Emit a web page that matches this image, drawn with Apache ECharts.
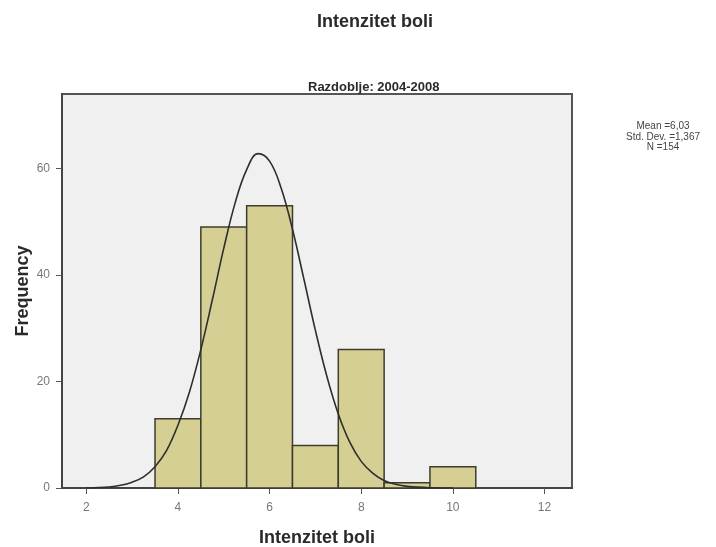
<!DOCTYPE html>
<html>
<head>
<meta charset="utf-8">
<script src="https://cdn.jsdelivr.net/npm/echarts@6/dist/echarts.min.js"></script>
<style>html,body{margin:0;padding:0;background:#fff}#c{width:716px;height:547px}</style>
</head>
<body>
<div id="c"></div>
<script>
var binCenters = [4, 5, 6, 7, 8, 9, 10];
var binCounts = [13, 49, 53, 8, 26, 1, 4];
var xTicks = [2, 4, 6, 8, 10, 12];
var yTicks = [0, 20, 40, 60];
var curveX = [2.0, 2.5, 2.75, 3.0, 3.25, 3.5, 3.75, 4.0, 4.25, 4.5, 4.75, 5.0, 5.25, 5.5, 5.75, 6.0, 6.25, 6.5, 6.75, 7.0, 7.25, 7.5, 7.75, 8.0, 8.25, 8.5, 8.75, 9.0, 9.5, 10.0];
var curveY = [0.0, 0.2, 0.5, 1.1, 2.1, 4.0, 7.0, 11.8, 18.0, 26.0, 35.3, 45.0, 53.6, 59.8, 62.8, 61.4, 56.4, 48.6, 39.2, 29.6, 21.0, 13.9, 8.6, 5.0, 2.8, 1.4, 0.7, 0.3, 0.05, 0.0];
var statsLines = ['Mean =6,03', 'Std. Dev. =1,367', 'N =154'];

var histData = binCenters.map(function (c, i) { return [c, binCounts[i]]; });
var curveData = curveX.map(function (x, i) { return [x, curveY[i]]; });

var chart = echarts.init(document.getElementById('c'), null, {renderer: 'canvas'});
var font = 'Liberation Sans, Arial, sans-serif';
chart.setOption({
  animation: false,
  backgroundColor: '#ffffff',
  title: [
    {text: 'Intenzitet boli', left: 312, top: 8,
     textStyle: {fontFamily: font, fontSize: 18, fontWeight: 'bold', color: '#2a2a2a'}},
    {text: 'Razdoblje: 2004-2008', left: 303, top: 76,
     textStyle: {fontFamily: font, fontSize: 13, fontWeight: 'bold', color: '#2a2a2a'}},
    {text: statsLines.join('\n'), left: 658, top: 116, textAlign: 'center',
     textStyle: {fontFamily: font, fontSize: 10, fontWeight: 'normal', color: '#444', lineHeight: 10.5, align: 'center'}}
  ],
  grid: {left: 62, top: 94, right: 144, bottom: 59, show: true, outerBoundsMode: 'none',
    backgroundColor: '#f0f0f0', borderColor: '#555', borderWidth: 2, containLabel: false},
  xAxis: {
    type: 'value', min: 1.47, max: 12.6,
    name: 'Intenzitet boli', nameLocation: 'middle', nameGap: 41, nameMoveOverlap: false,
    nameTextStyle: {fontFamily: font, fontSize: 18, fontWeight: 'bold', color: '#2a2a2a'},
    axisLine: {show: true, lineStyle: {color: '#444', width: 2}},
    axisTick: {show: true, length: 6, customValues: xTicks, lineStyle: {color: '#555'}},
    axisLabel: {customValues: xTicks, margin: 14, fontFamily: font, fontSize: 12, color: '#777'},
    splitLine: {show: false}
  },
  yAxis: {
    type: 'value', min: 0, max: 74,
    name: 'Frequency', nameLocation: 'middle', nameGap: 30, nameMoveOverlap: false,
    nameTextStyle: {fontFamily: font, fontSize: 18, fontWeight: 'bold', color: '#2a2a2a'},
    axisLine: {show: true, lineStyle: {color: '#444', width: 2}},
    axisTick: {show: true, length: 6, customValues: yTicks, lineStyle: {color: '#555'}},
    axisLabel: {customValues: yTicks, margin: 12, fontFamily: font, fontSize: 12, color: '#777'},
    splitLine: {show: false}
  },
  series: [
    {
      type: 'custom',
      data: histData,
      renderItem: function (params, api) {
        var c = api.value(0), v = api.value(1);
        var p0 = api.coord([c - 0.5, 0]);
        var p1 = api.coord([c + 0.5, v]);
        return {
          type: 'rect',
          shape: {x: p0[0], y: p1[1], width: p1[0] - p0[0], height: p0[1] - p1[1]},
          style: {fill: '#d5cf93', stroke: '#3d3d2e', lineWidth: 1.5}
        };
      },
      z: 2
    },
    {
      type: 'line',
      data: curveData,
      smooth: 0.4,
      showSymbol: false,
      lineStyle: {color: '#2e2e2e', width: 1.6},
      z: 3
    }
  ]
});
</script>
</body>
</html>
